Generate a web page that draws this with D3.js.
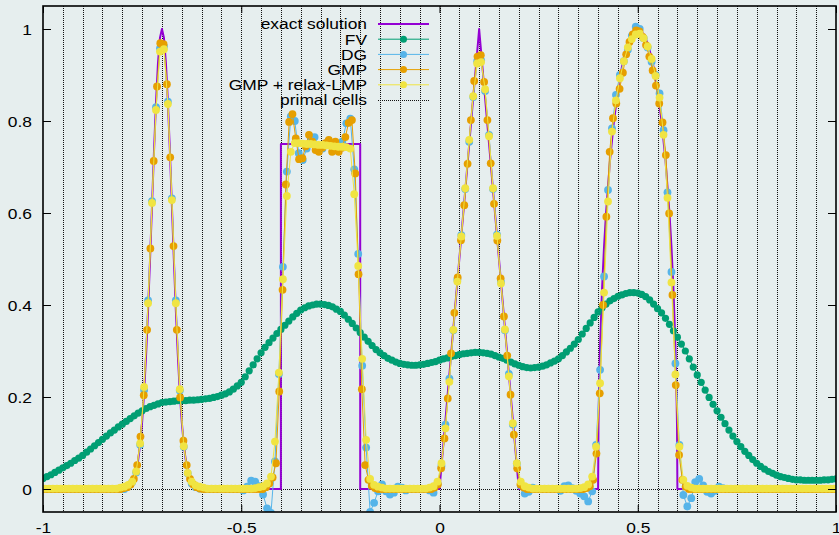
<!DOCTYPE html>
<html>
<head>
<meta charset="utf-8">
<script src="https://cdn.jsdelivr.net/npm/d3@7"></script>
<style>
  html, body { margin: 0; padding: 0; background: #e6eeee; }
  svg { display: block; }
  text { font-family: "Liberation Sans", Arial, sans-serif; font-size: 14.5px; fill: #000; }
</style>
</head>
<body>
<svg id="chart" width="839" height="535"></svg>
<script>
// ---------------------------------------------------------------------------
// Linear advection test on 40 primal cells: exact profile and four schemes.
// ---------------------------------------------------------------------------

// Exact solution: Gaussian, square pulse, triangle, half ellipse
const exactX = [
  -1, -0.800, -0.795, -0.790, -0.785, -0.780, -0.775, -0.770, -0.765, -0.760, -0.755,
  -0.750, -0.745, -0.740, -0.735, -0.730, -0.725, -0.720, -0.715, -0.710, -0.705,
  -0.700, -0.695, -0.690, -0.685, -0.680, -0.675, -0.670, -0.665, -0.660, -0.655,
  -0.650, -0.645, -0.640, -0.635, -0.630, -0.625, -0.620, -0.615, -0.610, -0.605, -0.600,
  -0.4, -0.4, -0.2, -0.2, 0, 0.1, 0.2,
  0.4, 0.401, 0.4025, 0.405, 0.41, 0.415, 0.42, 0.43, 0.44, 0.45, 0.46, 0.47, 0.48, 0.49,
  0.5, 0.51, 0.52, 0.53, 0.54, 0.55, 0.56, 0.57, 0.58, 0.585, 0.59, 0.595, 0.5975, 0.599, 0.6,
  1
];
const exactY = [
  0, 0.0005, 0.001, 0.002, 0.004, 0.007, 0.013, 0.023, 0.039, 0.063, 0.097,
  0.146, 0.210, 0.292, 0.389, 0.500, 0.618, 0.735, 0.841, 0.926, 0.981,
  1.000, 0.981, 0.926, 0.841, 0.735, 0.618, 0.500, 0.389, 0.292, 0.210,
  0.146, 0.097, 0.063, 0.039, 0.023, 0.013, 0.007, 0.004, 0.002, 0.001, 0.0005,
  0, 0.75, 0.75, 0, 0, 1, 0,
  0, 0.141, 0.222, 0.312, 0.436, 0.527, 0.600, 0.714, 0.800, 0.866, 0.917, 0.954, 0.980, 0.995,
  1.000, 0.995, 0.980, 0.954, 0.917, 0.866, 0.800, 0.714, 0.600, 0.527, 0.436, 0.312, 0.222, 0.141, 0,
  0
];

// FV: 201 nodes, spacing 0.01, from -1 to 1
const fvY = [
  0.023,
  0.027, 0.031, 0.036, 0.041, 0.046, 0.051, 0.056, 0.062, 0.067, 0.073,
  0.080, 0.087, 0.094, 0.101, 0.108, 0.115, 0.122, 0.128, 0.135, 0.141,
  0.147, 0.153, 0.159, 0.165, 0.170, 0.175, 0.179, 0.182, 0.185, 0.188,
  0.189, 0.190, 0.191, 0.192, 0.192, 0.192, 0.193, 0.193, 0.194, 0.195,
  0.196, 0.197, 0.199, 0.201, 0.204, 0.207, 0.211, 0.217, 0.224, 0.232,
  0.244, 0.257, 0.270, 0.283, 0.296, 0.308, 0.318, 0.328, 0.338, 0.347,
  0.356, 0.365, 0.374, 0.382, 0.389, 0.394, 0.398, 0.400, 0.402, 0.402,
  0.401, 0.399, 0.396, 0.391, 0.386, 0.378, 0.369, 0.360, 0.350, 0.340,
  0.330, 0.321, 0.312, 0.303, 0.296, 0.290, 0.284, 0.280, 0.276, 0.273,
  0.271, 0.270, 0.269, 0.269, 0.270, 0.271, 0.273, 0.275, 0.277, 0.280,
  0.283, 0.285, 0.288, 0.290, 0.292, 0.294, 0.295, 0.296, 0.297, 0.297,
  0.296, 0.295, 0.293, 0.290, 0.287, 0.284, 0.280, 0.276, 0.272, 0.269,
  0.266, 0.264, 0.263, 0.264, 0.265, 0.267, 0.270, 0.274, 0.278, 0.283,
  0.290, 0.298, 0.306, 0.315, 0.325, 0.337, 0.349, 0.361, 0.373, 0.385,
  0.394, 0.402, 0.409, 0.414, 0.419, 0.422, 0.425, 0.427, 0.427, 0.426,
  0.423, 0.418, 0.411, 0.402, 0.392, 0.383, 0.371, 0.358, 0.344, 0.330,
  0.315, 0.300, 0.283, 0.265, 0.248, 0.232, 0.215, 0.199, 0.184, 0.170,
  0.156, 0.142, 0.128, 0.115, 0.103, 0.092, 0.082, 0.073, 0.064, 0.056,
  0.049, 0.043, 0.038, 0.034, 0.030, 0.027, 0.025, 0.023, 0.021, 0.020,
  0.020, 0.019, 0.019, 0.019, 0.019, 0.019, 0.020, 0.020, 0.021, 0.022
];

// DG: 200 nodes, spacing 0.01, from -0.995 to 0.995
const dgY = [
  0, 0, 0, 0, 0, 0, 0, 0, 0, 0,
  0, 0, 0, 0, 0, 0, 0, 0, 0, 0,
  0, 0.006, 0.015, 0.036, 0.096, 0.215, 0.410, 0.626, 0.830, 0.958,
  0.962, 0.842, 0.632, 0.410, 0.214, 0.092, 0.034, 0.012, 0.004, 0.001,
  0, 0, 0, 0, 0, 0, 0, 0, 0, 0,
  -0.003, 0.005, 0.018, 0.016, 0.006, -0.012, -0.042, -0.052, 0.060, 0.250,
  0.483, 0.690, 0.810, 0.800, 0.730, 0.715, 0.740, 0.765, 0.765, 0.745,
  0.740, 0.752, 0.748, 0.738, 0.735, 0.755, 0.795, 0.805, 0.695, 0.511,
  0.268, 0.090, -0.050, -0.030, -0.005, 0.010, -0.005, -0.012, -0.008, 0.005,
  0.003, -0.003, 0, 0, 0, 0, 0, -0.003, -0.008, 0.012,
  0.050, 0.140, 0.240, 0.345, 0.455, 0.552, 0.652, 0.755, 0.852, 0.930,
  0.932, 0.865, 0.770, 0.652, 0.553, 0.450, 0.345, 0.250, 0.140, 0.055,
  0.008, -0.010, -0.006, 0.003, 0, 0, 0, 0, 0, 0,
  -0.004, 0.006, 0.008, 0.002, -0.004, -0.010, -0.016, -0.027, -0.005, 0.096,
  0.259, 0.462, 0.650, 0.784, 0.857, 0.900, 0.930, 0.955, 0.985, 1.005,
  1.000, 0.980, 0.960, 0.929, 0.900, 0.860, 0.780, 0.645, 0.472, 0.273,
  0.096, -0.013, -0.038, -0.020, 0.015, 0.022, 0.008, -0.006, -0.010, -0.004,
  0.005, 0.002, 0, 0, 0, 0, 0, 0, 0, 0,
  0, 0, 0, 0, 0, 0, 0, 0, 0, 0,
  0, 0, 0, 0, 0, 0, 0, 0, 0, 0
];

// GMP: 240 nodes, spacing 1/120, from -1 + 1/240
const gmpY = [
  0, 0, 0, 0, 0, 0, 0, 0, 0, 0,
  0, 0, 0, 0, 0, 0, 0, 0, 0, 0,
  0, 0, 0, 0, 0.002, 0.004, 0.010, 0.022, 0.052, 0.114,
  0.204, 0.346, 0.523, 0.713, 0.875, 0.969, 0.967, 0.880, 0.721, 0.528,
  0.346, 0.199, 0.105, 0.052, 0.022, 0.010, 0.004, 0.001, 0, 0,
  0, 0, 0, 0, 0, 0, 0, 0, 0, 0,
  0, 0, 0, 0, 0, 0, 0, 0.004, 0.012, 0.025,
  0.056, 0.212, 0.433, 0.662, 0.798, 0.815, 0.762, 0.717, 0.719, 0.745,
  0.770, 0.755, 0.737, 0.733, 0.742, 0.752, 0.759, 0.733, 0.755, 0.733,
  0.742, 0.765, 0.796, 0.802, 0.686, 0.467, 0.217, 0.052, 0.020, 0.007,
  0.002, 0, 0, 0, 0, 0, 0, 0, 0, 0,
  0, 0, 0, 0, 0, 0, 0, 0, 0.003, 0.010,
  0.045, 0.110, 0.197, 0.295, 0.383, 0.460, 0.541, 0.617, 0.707, 0.802,
  0.887, 0.940, 0.943, 0.885, 0.802, 0.708, 0.620, 0.540, 0.458, 0.375,
  0.290, 0.205, 0.118, 0.045, 0.010, 0.003, 0, 0, 0, 0,
  0, 0, 0, 0, 0, 0, 0, 0, 0, 0,
  0, 0, 0, 0, 0.002, 0.006, 0.020, 0.077, 0.208, 0.400,
  0.592, 0.733, 0.806, 0.838, 0.870, 0.905, 0.945, 0.972, 0.988, 0.997,
  0.995, 0.983, 0.965, 0.940, 0.910, 0.877, 0.838, 0.797, 0.726, 0.599,
  0.422, 0.226, 0.074, 0.020, 0.005, 0, 0, 0, 0, 0,
  0, 0, 0, 0, 0, 0, 0, 0, 0, 0,
  0, 0, 0, 0, 0, 0, 0, 0, 0, 0,
  0, 0, 0, 0, 0, 0, 0, 0, 0, 0,
  0, 0, 0, 0, 0, 0, 0, 0, 0, 0
];

// GMP + relax-LMP: 200 nodes, spacing 0.01, from -0.995 to 0.995
const relaxY = [
  0.001, 0.001, 0.001, 0.001, 0.001, 0.001, 0.001, 0.001, 0.001, 0.001,
  0.001, 0.001, 0.001, 0.001, 0.001, 0.001, 0.001, 0.001, 0.001, 0.003,
  0.005, 0.009, 0.016, 0.038, 0.099, 0.222, 0.404, 0.622, 0.824, 0.951,
  0.956, 0.837, 0.628, 0.404, 0.217, 0.093, 0.035, 0.016, 0.008, 0.005,
  0.003, 0.001, 0.001, 0.001, 0.001, 0.001, 0.001, 0.001, 0.001, 0.001,
  0.001, 0.001, 0.001, 0.002, 0.004, 0.006, 0.012, 0.027, 0.103, 0.253,
  0.456, 0.637, 0.733, 0.752, 0.752, 0.751, 0.750, 0.750, 0.749, 0.748,
  0.748, 0.747, 0.746, 0.745, 0.744, 0.744, 0.743, 0.740, 0.641, 0.485,
  0.283, 0.107, 0.022, 0.009, 0.005, 0.003, 0.001, 0.001, 0.001, 0.001,
  0.001, 0.001, 0.001, 0.001, 0.001, 0.001, 0.001, 0.003, 0.006, 0.016,
  0.056, 0.132, 0.233, 0.346, 0.451, 0.549, 0.654, 0.759, 0.854, 0.925,
  0.928, 0.869, 0.767, 0.654, 0.550, 0.447, 0.347, 0.245, 0.143, 0.056,
  0.016, 0.006, 0.003, 0.001, 0.001, 0.001, 0.001, 0.001, 0.001, 0.001,
  0.001, 0.001, 0.001, 0.001, 0.001, 0.002, 0.004, 0.010, 0.027, 0.092,
  0.230, 0.427, 0.625, 0.777, 0.845, 0.893, 0.930, 0.960, 0.978, 0.988,
  0.990, 0.980, 0.962, 0.935, 0.898, 0.851, 0.770, 0.633, 0.449, 0.249,
  0.092, 0.020, 0.007, 0.003, 0.001, 0.001, 0.001, 0.001, 0.001, 0.001,
  0.001, 0.001, 0.001, 0.001, 0.001, 0.001, 0.001, 0.001, 0.001, 0.001,
  0.001, 0.001, 0.001, 0.001, 0.001, 0.001, 0.001, 0.001, 0.001, 0.001,
  0.001, 0.001, 0.001, 0.001, 0.001, 0.001, 0.001, 0.001, 0.001, 0.001
];

const xTickValues = [-1, -0.5, 0, 0.5, 1];
const yTickValues = [0, 0.2, 0.4, 0.6, 0.8, 1];
const seriesNames = ["exact solution", "FV", "DG", "GMP", "GMP + relax-LMP", "primal cells"];

// Node positions of each output grid (40 primal cells on [-1, 1])
const nCells = 40;
const cellEdges = d3.range(1, nCells).map(k => -1 + 2 * k / nCells);
const fvX = d3.range(fvY.length).map(i => -1 + i * 0.01);
const dgX = d3.range(dgY.length).map(i => -0.995 + i * 0.01);
const gmpX = d3.range(gmpY.length).map(i => -1 + (i + 0.5) / 120);
const relaxX = d3.range(relaxY.length).map(i => -0.995 + i * 0.01);

// ---------------------------------------------------------------------------
const X0 = 43, X1 = 836, Y0 = 6, Y1 = 512;
const SX = 1.2;   // horizontal stretch of the lettering

const svg = d3.select("#chart");
const x = d3.scaleLinear().domain([-1, 1]).range([X0, X1]);
const y = d3.scaleLinear().domain([-0.05, 1.05]).range([Y1, Y0]);

svg.append("rect").attr("width", 839).attr("height", 535).attr("fill", "#e6eeee");
svg.append("defs").append("clipPath").attr("id", "plotClip")
  .append("rect").attr("x", X0).attr("y", Y0).attr("width", X1 - X0).attr("height", Y1 - Y0);

// primal cell boundaries and zero line
const gridG = svg.append("g").attr("stroke", "#111").attr("stroke-width", 1).attr("stroke-dasharray", "1,1");
gridG.selectAll("line.cell").data(cellEdges).join("line").attr("class", "cell")
  .attr("x1", d => Math.round(x(d)) + 0.5).attr("x2", d => Math.round(x(d)) + 0.5)
  .attr("y1", Y0).attr("y2", Y1);
gridG.append("line")
  .attr("x1", X0).attr("x2", X1)
  .attr("y1", Math.round(y(0)) + 0.5).attr("y2", Math.round(y(0)) + 0.5);

const styles = {
  exact: { color: "#9400d3", width: 2 },
  fv:    { color: "#009e73", width: 1, r: 3.6 },
  dg:    { color: "#56b4e9", width: 1, r: 3.9 },
  gmp:   { color: "#e69f00", width: 1, r: 3.9 },
  relax: { color: "#f0e442", width: 1, r: 3.9 }
};

const plot = svg.append("g").attr("clip-path", "url(#plotClip)");
const line = d3.line().x(d => x(d[0])).y(d => y(d[1]));

function drawSeries(xs, ys, st, withPoints) {
  const pts = xs.map((xv, i) => [xv, ys[i]]);
  const g = plot.append("g");
  g.append("path").datum(pts).attr("d", line)
    .attr("fill", "none").attr("stroke", st.color).attr("stroke-width", st.width)
    .attr("stroke-linejoin", "round");
  if (withPoints) {
    g.selectAll("circle").data(pts).join("circle")
      .attr("cx", d => x(d[0])).attr("cy", d => y(d[1])).attr("r", st.r)
      .attr("fill", st.color);
  }
}

drawSeries(exactX, exactY, styles.exact, false);
drawSeries(fvX, fvY, styles.fv, true);
drawSeries(dgX, dgY, styles.dg, true);
drawSeries(gmpX, gmpY, styles.gmp, true);
drawSeries(relaxX, relaxY, styles.relax, true);

// axes: inward ticks on all four sides, labels left and bottom
const fmt = d => String(d);
const axL = svg.append("g").attr("transform", `translate(${X0},0)`)
  .call(d3.axisLeft(y).tickValues(yTickValues).tickSize(-8).tickFormat(fmt));
const axR = svg.append("g").attr("transform", `translate(${X1},0)`)
  .call(d3.axisRight(y).tickValues(yTickValues).tickSize(-8).tickFormat(""));
const axB = svg.append("g").attr("transform", `translate(0,${Y1})`)
  .call(d3.axisBottom(x).tickValues(xTickValues).tickSize(-7).tickFormat(fmt));
const axT = svg.append("g").attr("transform", `translate(0,${Y0})`)
  .call(d3.axisTop(x).tickValues(xTickValues).tickSize(-7).tickFormat(""));
[axL, axR, axB, axT].forEach(a => { a.select(".domain").remove(); a.selectAll("line").attr("stroke", "#000"); });

axL.selectAll("text").attr("x", null).attr("dy", null).attr("fill", "#000")
  .attr("text-anchor", "end").attr("transform", `translate(-11,5) scale(${SX},1)`);
axB.selectAll("text").attr("y", null).attr("dy", null).attr("fill", "#000")
  .attr("text-anchor", "middle").attr("transform", `translate(0,21) scale(${SX},1)`);

// frame
svg.append("rect").attr("x", X0).attr("y", Y0).attr("width", X1 - X0).attr("height", Y1 - Y0)
  .attr("fill", "none").attr("stroke", "#000").attr("stroke-width", 1.6);

// legend
const legendKeys = ["exact", "fv", "dg", "gmp", "relax", "cells"];
const legend = svg.append("g");
const textRight = 367, sx0 = 378, sx1 = 429, rowTop = 24, rowStep = 15.2;
legendKeys.forEach((k, i) => {
  const cy = rowTop + i * rowStep;
  legend.append("text").attr("text-anchor", "end")
    .attr("transform", `translate(${textRight},${cy + 5.3}) scale(${SX},1)`)
    .text(seriesNames[i]);
  if (k === "cells") {
    legend.append("line").attr("x1", sx0).attr("x2", sx1)
      .attr("y1", Math.round(cy) + 0.5).attr("y2", Math.round(cy) + 0.5)
      .attr("stroke", "#111").attr("stroke-dasharray", "1,1");
  } else {
    const st = styles[k];
    legend.append("line").attr("x1", sx0).attr("x2", sx1).attr("y1", cy).attr("y2", cy)
      .attr("stroke", st.color).attr("stroke-width", st.width);
    if (st.r) {
      legend.append("circle").attr("cx", (sx0 + sx1) / 2).attr("cy", cy).attr("r", 3.5).attr("fill", st.color);
    }
  }
});
</script>
</body>
</html>
